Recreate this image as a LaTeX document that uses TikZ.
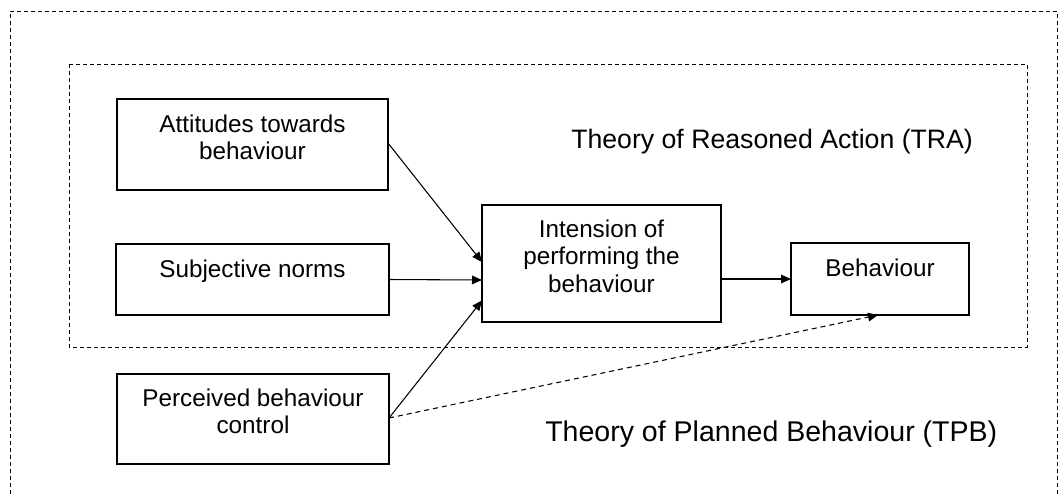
\documentclass[tikz,border=0pt]{standalone}
\usepackage{fontspec}
\setmainfont{Liberation Sans}
\usetikzlibrary{arrows.meta,calc}

\begin{document}
\begin{tikzpicture}[x=0.75pt,y=-0.75pt,
  box/.style={draw,line width=0.9pt,rectangle,inner sep=0pt,outer sep=0pt},
  boxtext/.style={align=center,inner sep=0pt,font=\fontsize{18.2pt}{20.5pt}\selectfont},
  title/.style={anchor=base west,inner sep=0pt,font=\fontsize{20pt}{24pt}\selectfont},
  frame/.style={line width=0.75pt,dash pattern=on 3pt off 2.25pt},
  link/.style={line width=0.8pt,-{Triangle[length=7.5pt,width=6.5pt]}},
  dlink/.style={line width=0.8pt,dash pattern=on 3.75pt off 3pt,-{Triangle[length=7.5pt,width=6.5pt]}}]

\useasboundingbox (0,0) rectangle (1059,494);

% outer frame (TPB) and inner frame (TRA)
\draw[frame] (10,494) -- (10,11) -- (1057,11) -- (1057,494);
\draw[frame] (69,64) rectangle (1027,347);

% boxes
\node[box,minimum width=203.25pt,minimum height=68.25pt] (att) at (252.5,144.5) {};
\node[box,minimum width=204.75pt,minimum height=53.25pt] (sub) at (252.5,279.5) {};
\node[box,minimum width=204pt,minimum height=67.5pt] (per) at (253,419) {};
\node[box,minimum width=179.25pt,minimum height=87.75pt] (int) at (601.5,263.5) {};
\node[box,minimum width=133.5pt,minimum height=54pt] (beh) at (880,279) {};

% box labels
\node[boxtext] (attT) at ($(att.center)+(0,-7.5)$) {Attitudes towards\\behaviour};
\node[boxtext] (subT) at ($(sub.center)+(0,-8)$) {Subjective norms};
\node[boxtext] (perT) at ($(per.center)+(0,-7.5)$) {Perceived behaviour\\control};
\node[boxtext] (intT) at ($(int.center)+(0,-7.5)$) {Intension of\\performing the\\behaviour};
\node[boxtext] (behT) at ($(beh.center)+(0,-11)$) {Behaviour};

% titles
\node[title] (tra) at (571,148) {Theory of Reasoned Action (TRA)};
\node[title,font=\fontsize{21.4pt}{25pt}\selectfont] (tpb) at (545,441) {Theory of Planned Behaviour (TPB)};

% connectors
\coordinate (inA) at ($(int.west)+(0,-1.5)$);
\coordinate (inS) at ($(int.west)+(0,16.5)$);
\coordinate (inP) at ($(int.west)+(0,37)$);
\coordinate (attOut) at ($(att.east)+(0,-1.5)$);
\coordinate (perOut) at ($(per.east)+(0,-1)$);
\draw[link] (attOut) -- (inA);
\draw[link] (sub.east) -- (inS);
\draw[link] (perOut) -- (inP);
\draw[link] (int.east |- beh.west) -- (beh.west);
\draw[dlink] (perOut) -- ($(beh.south)+(-2,0)$);
\end{tikzpicture}
\end{document}
